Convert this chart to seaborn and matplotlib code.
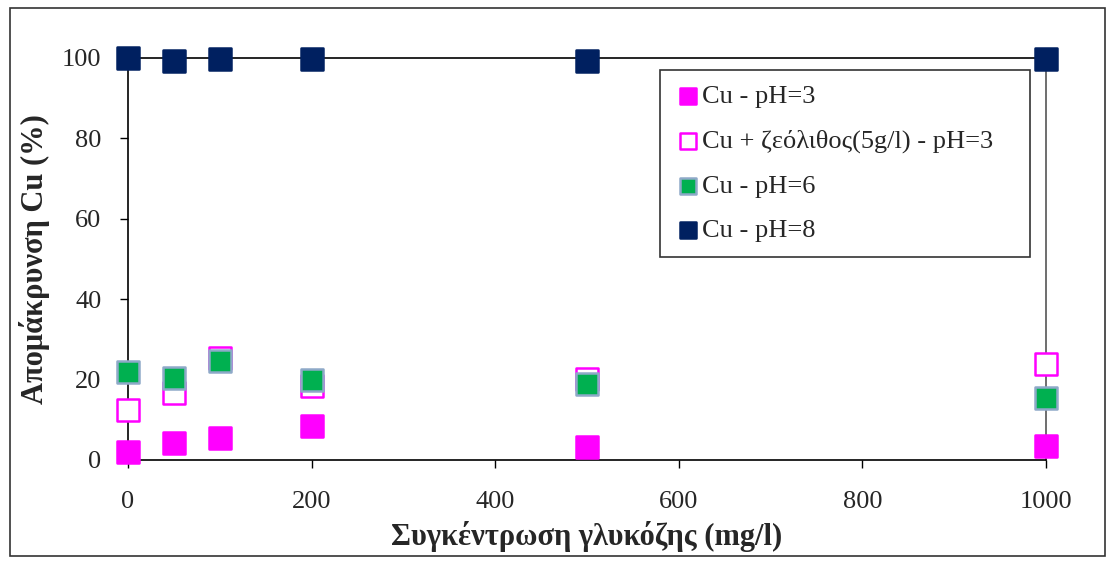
# Απομάκρυνση Cu συναρτήσει της συγκέντρωσης γλυκόζης
import matplotlib
matplotlib.use("Agg")
import matplotlib.pyplot as plt
from matplotlib.patches import Rectangle
import pandas as pd
import seaborn as sns

# Données
glucose = [0, 50, 100, 200, 500, 1000]
cu_ph3 = [2.0, 4.3, 5.5, 8.5, 3.3, 3.5]
cu_zeolite_ph3 = [12.5, 16.7, 25.3, 18.4, 20.2, 24.0]
cu_ph6 = [22.0, 20.4, 24.6, 20.0, 19.0, 15.5]
cu_ph8 = [100.0, 99.3, 99.7, 99.7, 99.3, 99.7]

labels = ["Cu - pH=3", "Cu + ζεόλιθος(5g/l) - pH=3", "Cu - pH=6", "Cu - pH=8"]
series = [cu_ph3, cu_zeolite_ph3, cu_ph6, cu_ph8]

# Styles des marqueurs (face, bord)
styles = [("#FF00FF", "#FF00FF"),
          ("white", "#FF00FF"),
          ("#00B050", "#8EA9C8"),
          ("#002060", "#002060")]

sns.set_style("white")
plt.rcParams["font.family"] = ["Liberation Serif", "DejaVu Serif"]

fig = plt.figure(figsize=(11.17, 5.62), dpi=100)
ax = fig.add_axes([0.1146, 0.1815, 0.8218, 0.7153])

for lab, vals, (fc, ec) in zip(labels, series, styles):
    df = pd.DataFrame({"x": glucose, "y": vals})
    sns.scatterplot(data=df, x="x", y="y", ax=ax, marker="s", s=230,
                    color=fc, edgecolor=ec, linewidth=1.8, label=lab,
                    clip_on=False, zorder=3)

ax.set_xlim(0, 1000)
ax.set_ylim(0, 100)
ax.set_xticks([0, 200, 400, 600, 800, 1000])
ax.set_yticks([0, 20, 40, 60, 80, 100])
ax.tick_params(axis="both", labelsize=19, direction="out", length=6,
               width=1, color="black", bottom=True, left=True)
ax.tick_params(axis="x", pad=16)
ax.tick_params(axis="y", pad=13)

for side in ["left", "bottom", "top"]:
    ax.spines[side].set_color("black")
    ax.spines[side].set_linewidth(1.2)
ax.spines["right"].set_color("#555555")
ax.spines["right"].set_linewidth(1.2)

ax.set_xlabel("Συγκέντρωση γλυκόζης (mg/l)", fontsize=22, fontweight="bold",
              labelpad=6)
ax.set_ylabel("Απομάκρυνση Cu (%)", fontsize=22, fontweight="bold",
              labelpad=9)

# Légende encadrée
leg = ax.legend(loc="upper left", bbox_to_anchor=(0.5795, 0.87, 0.403, 0.1),
                mode="expand", fontsize=19,
                frameon=True, fancybox=False, edgecolor="black",
                labelspacing=0.8, handletextpad=0.05, borderpad=0.55,
                borderaxespad=0, markerscale=0.76, handlelength=1.0)
leg.get_frame().set_linewidth(1.2)

# Cadre extérieur du graphique
fig.patches.append(Rectangle((10 / 1117, 6 / 562), 1095 / 1117, 548 / 562,
                             transform=fig.transFigure, fill=False,
                             edgecolor="#333333", linewidth=1.2))

fig.savefig("out.png", dpi=100)
